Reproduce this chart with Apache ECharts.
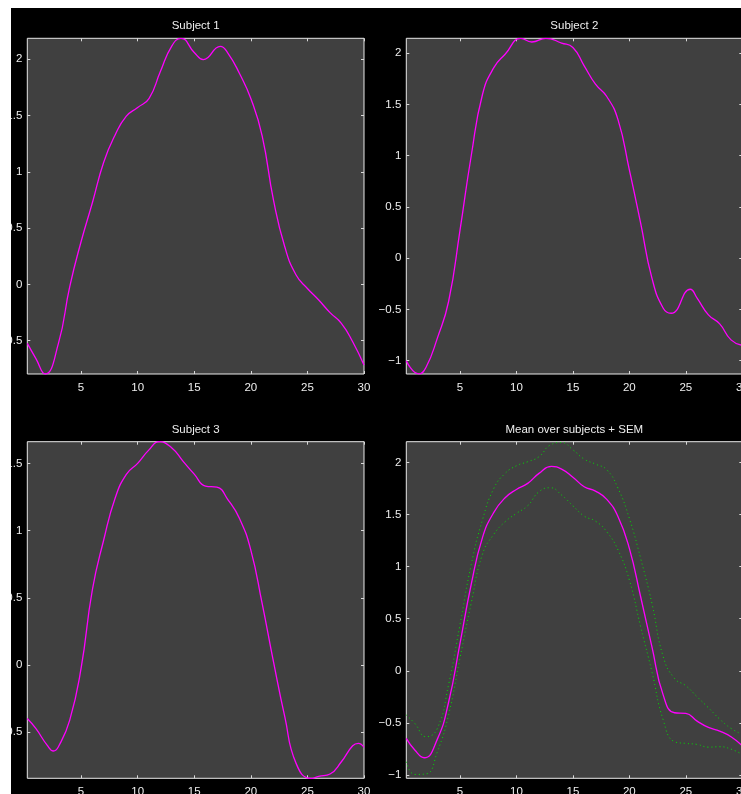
<!DOCTYPE html>
<html>
<head>
<meta charset="utf-8">
<script src="https://cdn.jsdelivr.net/npm/echarts@6/dist/echarts.min.js"></script>
<style>
  html, body { margin: 0; padding: 0; background: #fff; }
  #chart { width: 741px; height: 794px; }
</style>
</head>
<body>
<div id="chart"></div>
<script>
// ---- data ----
const xs1 = [0.25, 1, 1.83, 3, 4, 5, 6, 7, 8, 9, 10, 11, 12, 13, 13.83, 15, 15.8, 17.3, 18, 19, 20, 21, 22, 23, 24, 25, 26, 27, 28, 29, 30];
const subject1 = [-0.524, -0.657, -0.796, -0.524, -0.02, 0.379, 0.725, 1.085, 1.325, 1.494, 1.571, 1.651, 1.888, 2.115, 2.186, 2.06, 1.997, 2.115, 2.05, 1.873, 1.651, 1.32, 0.75, 0.334, 0.083, -0.036, -0.139, -0.251, -0.346, -0.509, -0.716];

const xs2 = [0.25, 1.36, 2, 3, 4, 5, 6, 7, 8, 9, 10.4, 11.36, 12.6, 14, 15, 16, 17, 18, 19, 20, 21, 22, 23, 23.7, 25.4, 26, 27, 28, 29, 30];
const subject2 = [-1.002, -1.129, -1.064, -0.78, -0.42, 0.27, 1.0, 1.6, 1.86, 1.99, 2.146, 2.11, 2.146, 2.1, 2.056, 1.877, 1.698, 1.578, 1.35, 0.862, 0.342, -0.195, -0.488, -0.537, -0.303, -0.39, -0.553, -0.641, -0.797, -0.85];

const xs3 = [0.25, 1, 2, 2.56, 3, 4, 5, 6, 7, 8, 9, 10, 11, 11.9, 13, 14, 15, 16, 17, 18, 19, 20, 21, 22, 23, 24, 25.3, 26, 27, 28, 29, 29.5, 30];
const subject3 = [-0.397, -0.471, -0.595, -0.639, -0.607, -0.409, -0.025, 0.56, 0.93, 1.239, 1.418, 1.5, 1.6, 1.661, 1.616, 1.517, 1.42, 1.331, 1.323, 1.227, 1.09, 0.855, 0.458, 0.025, -0.384, -0.731, -0.843, -0.828, -0.81, -0.719, -0.6, -0.582, -0.612];

const xsMean = [0.25, 1, 1.83, 3, 4, 5, 6, 7, 8, 9, 10, 11, 12, 13.1, 14, 15, 16, 17, 18, 19, 20, 21, 22, 23, 24, 25, 26, 27, 28, 29, 30];
const meanVals = [-0.649, -0.761, -0.835, -0.656, -0.3, 0.26, 0.83, 1.28, 1.52, 1.66, 1.74, 1.798, 1.894, 1.961, 1.935, 1.857, 1.766, 1.724, 1.644, 1.478, 1.174, 0.71, 0.23, -0.234, -0.403, -0.409, -0.483, -0.544, -0.579, -0.633, -0.72];

const xsSem = [0.25, 1, 2, 3, 4, 5, 6, 7, 8, 9, 10, 11, 12, 13, 14, 15, 16, 17, 18, 19, 20, 21, 22, 23, 24, 25, 26, 27, 28, 29, 30];
const semUpper = [-0.425, -0.505, -0.633, -0.553, -0.13, 0.44, 1.02, 1.45, 1.75, 1.894, 1.967, 2.006, 2.054, 2.166, 2.19, 2.12, 2.031, 1.983, 1.929, 1.75, 1.462, 1.078, 0.646, 0.134, -0.074, -0.144, -0.25, -0.355, -0.464, -0.553, -0.611];
const semLower = [-0.873, -0.995, -0.99, -0.777, -0.42, 0.12, 0.65, 1.12, 1.31, 1.43, 1.51, 1.584, 1.718, 1.756, 1.686, 1.583, 1.484, 1.436, 1.334, 1.158, 0.87, 0.422, -0.01, -0.473, -0.681, -0.697, -0.707, -0.733, -0.729, -0.752, -0.803];

const xTicks = [5, 10, 15, 20, 25, 30];
const yTicks1 = [-0.5, 0, 0.5, 1, 1.5, 2];
const yTicks2 = [-1, -0.5, 0, 0.5, 1, 1.5, 2];
const yTicks3 = [-0.5, 0, 0.5, 1, 1.5];
const yTicks4 = [-1, -0.5, 0, 0.5, 1, 1.5, 2];

const titles = ['Subject 1', 'Subject 2', 'Subject 3', 'Mean over subjects + SEM'];

// ---- layout ----
const FONT = '"Liberation Sans", Arial, Helvetica, sans-serif';
const TXT = '#eeeeee';
const FS = 11.5;
const panels = [
  { left: 27.3, top: 38.3, width: 336.7, height: 335.7, ymin: -0.796, ymax: 2.186, yt: yTicks1 },
  { left: 406.3, top: 38.3, width: 336.0, height: 335.7, ymin: -1.130, ymax: 2.146, yt: yTicks2 },
  { left: 27.3, top: 441.7, width: 336.7, height: 336.6, ymin: -0.842, ymax: 1.661, yt: yTicks3 },
  { left: 406.3, top: 441.7, width: 336.0, height: 336.6, ymin: -1.032, ymax: 2.198, yt: yTicks4 }
];
const xMin = 0.25, xMax = 30;

function fmt(v) {
  return v < 0 ? '\u2212' + String(Math.abs(v)) : String(v);
}

const grid = [], xAxis = [], yAxis = [];
panels.forEach((p, i) => {
  grid.push({ left: p.left, top: p.top, width: p.width, height: p.height, show: true,
    backgroundColor: '#404040', borderColor: '#e8e8e8', borderWidth: 1,
    containLabel: false, outerBoundsMode: 'none' });
  const tickStyle = { color: '#d8d8d8', width: 1 };
  ['bottom', 'top'].forEach(pos => {
    xAxis.push({ type: 'value', gridIndex: i, min: xMin, max: xMax, position: pos,
      axisLine: { show: false, onZero: false }, splitLine: { show: false },
      axisTick: { show: true, inside: true, length: 3, customValues: xTicks, lineStyle: tickStyle },
      axisLabel: { show: pos === 'bottom', customValues: xTicks, color: TXT, fontSize: FS, fontFamily: FONT, margin: 8, formatter: fmt }
    });
  });
  ['left', 'right'].forEach(pos => {
    yAxis.push({ type: 'value', gridIndex: i, min: p.ymin, max: p.ymax, position: pos,
      axisLine: { show: false, onZero: false }, splitLine: { show: false },
      axisTick: { show: true, inside: true, length: 3, customValues: p.yt, lineStyle: tickStyle },
      axisLabel: { show: pos === 'left', customValues: p.yt, color: TXT, fontSize: FS, fontFamily: FONT, margin: 5, formatter: fmt }
    });
  });
});

function pairs(xsArr, arr) { return xsArr.map((x, k) => [x, arr[k]]); }
const MAG = '#ff00ff', GRN = '#00dd00';
function lineSeries(xsArr, arr, gi, color, type, width) {
  return { type: 'line', xAxisIndex: gi * 2, yAxisIndex: gi * 2, data: pairs(xsArr, arr), smooth: 0.5,
    showSymbol: false, symbol: 'none', clip: true, silent: true, animation: false,
    lineStyle: { color: color, width: width, type: type } };
}

const series = [
  lineSeries(xs1, subject1, 0, MAG, 'solid', 1.3),
  lineSeries(xs2, subject2, 1, MAG, 'solid', 1.3),
  lineSeries(xs3, subject3, 2, MAG, 'solid', 1.3),
  lineSeries(xsSem, semUpper, 3, GRN, [1, 3], 1),
  lineSeries(xsSem, semLower, 3, GRN, [1, 3], 1),
  lineSeries(xsMean, meanVals, 3, MAG, 'solid', 1.3)
];

const graphic = [];
panels.forEach((p, i) => {
  graphic.push({ type: 'text', x: p.left + p.width / 2, y: p.top - 12, z: 50,
    style: { text: titles[i], fill: TXT, font: FS + 'px ' + FONT, textAlign: 'center', textVerticalAlign: 'middle' } });
});
// white margins of the original figure image
graphic.push({ type: 'rect', shape: { x: 0, y: 0, width: 741, height: 8 }, style: { fill: '#ffffff' }, z: 100 });
graphic.push({ type: 'rect', shape: { x: 0, y: 0, width: 11, height: 794 }, style: { fill: '#ffffff' }, z: 100 });

const chart = echarts.init(document.getElementById('chart'), null, { renderer: 'canvas' });
chart.setOption({
  backgroundColor: '#000000',
  animation: false,
  grid, xAxis, yAxis, series, graphic
});
</script>
</body>
</html>
